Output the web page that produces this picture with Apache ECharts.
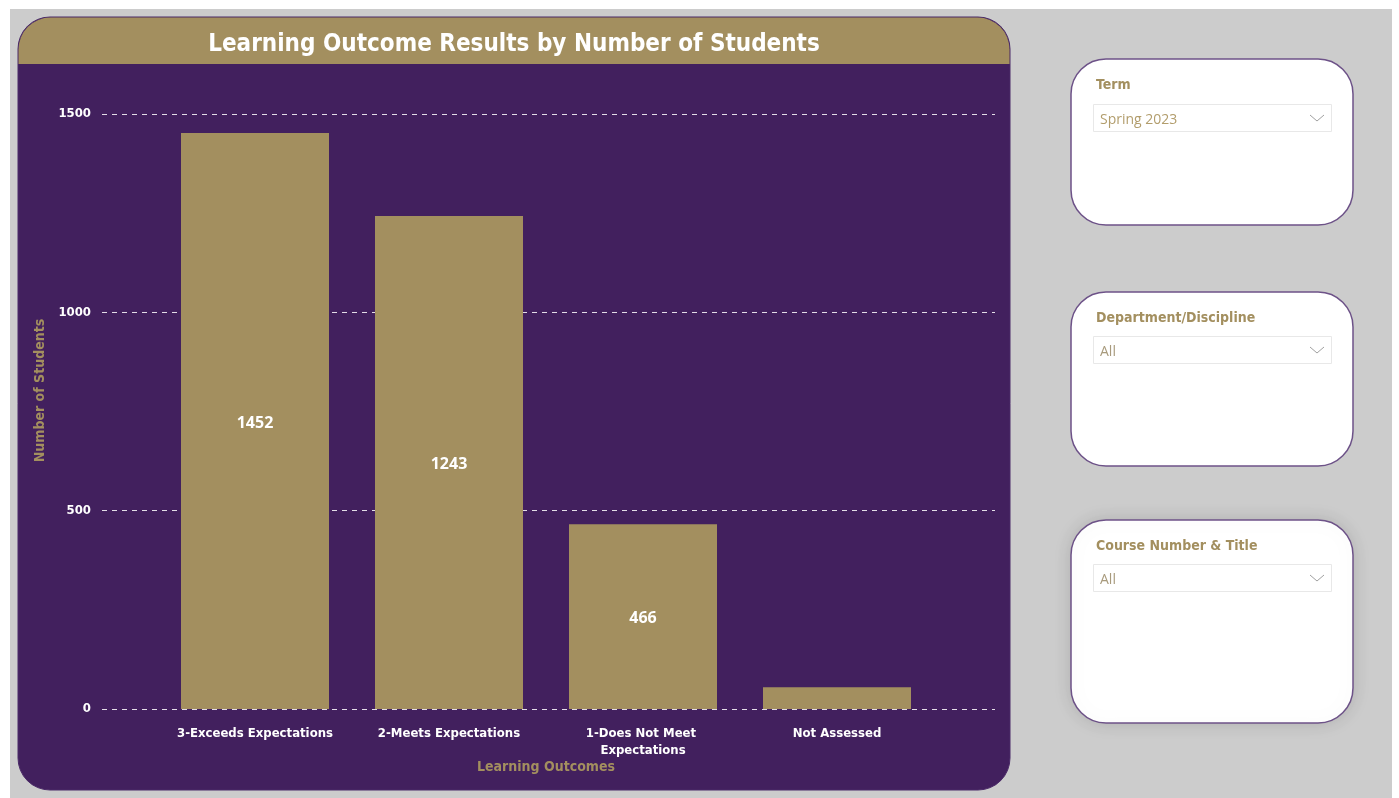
<!DOCTYPE html>
<html>
<head>
<meta charset="utf-8">
<script src="https://cdn.jsdelivr.net/npm/echarts@6/dist/echarts.min.js"></script>
<style>
  html, body { margin: 0; padding: 0; background: #fff; }
  #main { width: 1399px; height: 798px; }
</style>
</head>
<body>
<div id="main"></div>
<script>
// Chart data
const outcomes = ['3-Exceeds Expectations', '2-Meets Expectations', '1-Does Not Meet Expectations', 'Not Assessed'];
const studentCounts = [1452, 1243, 466, 55];
const yTicks = [0, 500, 1000, 1500];

// Slicer panels (title, selected value)
const slicerTitles = ['Term', 'Department/Discipline', 'Course Number & Title'];
const slicerValues = ['Spring 2023', 'All', 'All'];

const GOLD = '#A38F5F';
const PURPLE = '#42205E';
const COND = "'DejaVu Sans Condensed', 'Liberation Sans Narrow', sans-serif";

const chart = echarts.init(document.getElementById('main'));

// slicer card geometry
const cards = [
  { y: 59, h: 166, dd: 104 },
  { y: 292, h: 174, dd: 336 },
  { y: 520, h: 203, dd: 564, shadow: true },
];

const graphics = [
  { type: 'rect', z: -10, shape: { x: 10, y: 9, width: 1382, height: 789 }, style: { fill: '#CCCCCC' } },
  { type: 'rect', z: -9, shape: { x: 18, y: 17, width: 992, height: 773, r: 32 },
    style: { fill: PURPLE, stroke: '#4b2a68', lineWidth: 1 } },
  { type: 'rect', z: -8, shape: { x: 18.5, y: 17.5, width: 991, height: 46.5, r: [32, 32, 0, 0] },
    style: { fill: GOLD } },
];

cards.forEach((c, i) => {
  graphics.push({
    type: 'rect', z: -7,
    shape: { x: 1071, y: c.y, width: 282, height: c.h, r: 35 },
    style: Object.assign({ fill: '#fff', stroke: '#6d5288', lineWidth: 1.5 },
      c.shadow ? { shadowBlur: 18, shadowColor: 'rgba(0,0,0,0.13)' } : {}),
  });
  graphics.push({
    type: 'text', z: -6, x: 1096, y: c.y + 26,
    style: { text: slicerTitles[i], fill: GOLD, font: 'bold 14px ' + COND, verticalAlign: 'middle' },
  });
  graphics.push({
    type: 'rect', z: -6,
    shape: { x: 1093.5, y: c.dd + 0.5, width: 238, height: 27 },
    style: { fill: '#fff', stroke: '#E8E8E8', lineWidth: 1 },
  });
  graphics.push({
    type: 'text', z: -5, x: 1100, y: c.dd + 16,
    style: { text: slicerValues[i], fill: i === 0 ? '#B29D6C' : '#A89A7C',
      font: "14px 'Open Sans', 'Noto Sans', sans-serif", verticalAlign: 'middle' },
  });
  graphics.push({
    type: 'polyline', z: -5,
    shape: { points: [[1310, c.dd + 11], [1317, c.dd + 17], [1324, c.dd + 11]] },
    style: { stroke: '#a0a0a0', lineWidth: 1, fill: null },
  });
});

chart.setOption({
  backgroundColor: '#ffffff',
  animation: false,
  title: {
    text: 'Learning Outcome Results by Number of Students',
    left: 514,
    top: 33,
    textAlign: 'center',
    padding: 0,
    textStyle: { color: '#fff', fontFamily: COND, fontWeight: 'bold', fontSize: 24 },
  },
  graphic: graphics,
  grid: [
    { left: 102, right: 404, top: 114, bottom: 89 },
    { left: 158, right: 465, top: 114, bottom: 89 },
  ],
  xAxis: [
    { type: 'value', gridIndex: 0, show: false, min: 0, max: 1 },
    {
      type: 'category', gridIndex: 1, data: outcomes,
      axisLine: { show: false }, axisTick: { show: false },
      axisLabel: {
        color: '#fff', fontFamily: COND, fontWeight: 'bold', fontSize: 13,
        margin: 16, lineHeight: 17, width: 172, overflow: 'break', interval: 0,
      },
      name: 'Learning Outcomes', nameLocation: 'middle', nameGap: 51, nameMoveOverlap: false,
      nameTextStyle: { color: GOLD, fontFamily: COND, fontWeight: 'bold', fontSize: 14 },
    },
  ],
  yAxis: [
    {
      type: 'value', gridIndex: 0, min: yTicks[0], max: yTicks[yTicks.length - 1], interval: 500,
      axisLine: { show: false }, axisTick: { show: false },
      axisLabel: { color: '#fff', fontFamily: COND, fontWeight: 'bold', fontSize: 13, margin: 11,
        formatter: (v) => String(v) },
      splitLine: { lineStyle: { color: 'rgba(255,255,255,0.85)', type: [5, 5], width: 1.2 } },
      name: 'Number of Students', nameLocation: 'middle', nameGap: 49, nameRotate: 90,
      nameTextStyle: { color: GOLD, fontFamily: COND, fontWeight: 'bold', fontSize: 14, padding: [0, 0, 0, 42] },
    },
    {
      type: 'value', gridIndex: 1, show: false, min: yTicks[0], max: yTicks[yTicks.length - 1],
      splitLine: { show: false },
    },
  ],
  series: [{
    type: 'bar',
    xAxisIndex: 1,
    yAxisIndex: 1,
    data: studentCounts,
    barWidth: 148,
    itemStyle: { color: GOLD },
    label: {
      show: true,
      position: 'inside',
      color: '#fff',
      fontFamily: "'Open Sans', 'Noto Sans', sans-serif",
      fontWeight: 'bold',
      fontSize: 16,
      offset: [0, 2],
      formatter: (p) => (p.value >= 200 ? String(p.value) : ''),
    },
  }],
});
</script>
</body>
</html>
